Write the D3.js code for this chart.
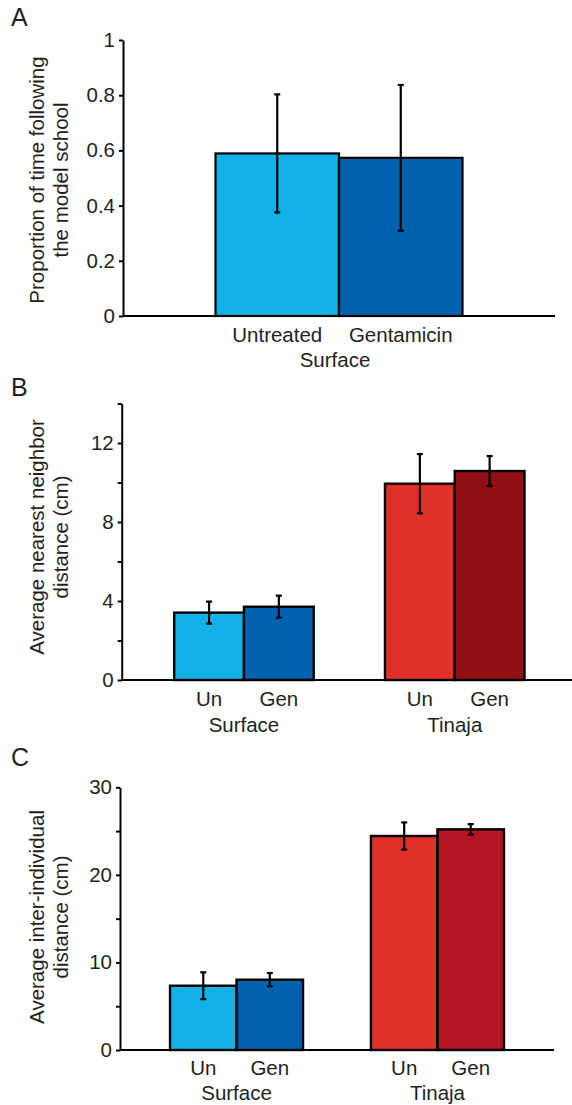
<!DOCTYPE html>
<html>
<head>
<meta charset="utf-8">
<script src="https://cdn.jsdelivr.net/npm/d3@7"></script>
<style>
  html, body { margin: 0; padding: 0; background: #ffffff; }
  svg { display: block; }
  text { font-family: "Liberation Sans", Arial, Helvetica, sans-serif; fill: #231f20; }
</style>
</head>
<body>
<svg id="fig" width="572" height="1105"></svg>
<script>
// ---- Panel A: proportion of time following the model school ----
const aCategories = ["Untreated", "Gentamicin"];
const aMeans = [0.589, 0.573];
const aErrors = [0.214, 0.264];
const aTicks = [0, 0.2, 0.4, 0.6, 0.8, 1];
const aTickLabels = ["0", "0.2", "0.4", "0.6", "0.8", "1"];
const aGroup = "Surface";
const aColors = ["#12b1e7", "#0061ae"];

// ---- Panel B: average nearest neighbor distance ----
const bGroups = ["Surface", "Tinaja"];
const bTreatments = ["Un", "Gen"];
const bSurfaceMeans = [3.41, 3.71];
const bSurfaceErrors = [0.56, 0.56];
const bTinajaMeans = [9.94, 10.58];
const bTinajaErrors = [1.5, 0.76];
const bTicks = [0, 2, 4, 6, 8, 10, 12, 14];
const bTickLabels = ["0", "", "4", "", "8", "", "12", ""];
const bColors = [["#12b1e7", "#0061ae"], ["#e03129", "#921014"]];

// ---- Panel C: average inter-individual distance ----
const cGroups = ["Surface", "Tinaja"];
const cTreatments = ["Un", "Gen"];
const cSurfaceMeans = [7.34, 8.03];
const cSurfaceErrors = [1.53, 0.76];
const cTinajaMeans = [24.44, 25.2];
const cTinajaErrors = [1.55, 0.6];
const cTicks = [0, 5, 10, 15, 20, 25, 30];
const cTickLabels = ["0", "", "10", "", "20", "", "30"];
const cColors = [["#12b1e7", "#0061ae"], ["#e03129", "#b51424"]];

const svg = d3.select("#fig");
const FS = 20.5;

function yAxis(g, y, x0, ticks, labels) {
  const axis = d3.axisLeft(y)
    .tickValues(ticks)
    .tickFormat((d, i) => labels[i])
    .tickSize(4)
    .tickSizeOuter(0)
    .tickPadding(4);
  const ag = g.append("g").attr("transform", `translate(${x0},0)`).call(axis);
  ag.select(".domain").attr("stroke", "#000").attr("stroke-width", 2);
  ag.selectAll(".tick line").attr("stroke", "#000").attr("stroke-width", 2);
  ag.selectAll(".tick text")
    .attr("font-size", FS)
    .attr("font-family", "Liberation Sans, Arial, sans-serif")
    .attr("fill", "#231f20");
}

function yTitle(g, lines, cx, cy) {
  const t = g.append("text")
    .attr("transform", `translate(${cx},${cy}) rotate(-90)`)
    .attr("text-anchor", "middle")
    .attr("font-size", FS);
  lines.forEach((s, i) => {
    t.append("tspan").attr("x", 0).attr("dy", i === 0 ? 0 : 24.5).text(s);
  });
}

function panelLetter(g, s, x, y) {
  g.append("text").attr("x", x).attr("y", y).attr("font-size", 25).text(s);
}

function errorBar(g, cx, y, m, e) {
  const cap = 3;
  g.append("line").attr("x1", cx).attr("x2", cx).attr("y1", y(m + e)).attr("y2", y(m - e))
    .attr("stroke", "#000").attr("stroke-width", 2.2);
  [m + e, m - e].forEach(v => {
    g.append("line").attr("x1", cx - cap).attr("x2", cx + cap).attr("y1", y(v)).attr("y2", y(v))
      .attr("stroke", "#000").attr("stroke-width", 2.2);
  });
}

// ---------- Panel A ----------
(function () {
  const g = svg.append("g");
  const x0 = 123, x1 = 555;
  const y = d3.scaleLinear().domain([0, 1]).range([316, 40]);
  const x = d3.scaleBand().domain(aCategories).range([x0, x1]).paddingInner(0).paddingOuter(0.749);

  g.append("line").attr("x1", x0).attr("x2", x1).attr("y1", y(0)).attr("y2", y(0))
    .attr("stroke", "#000").attr("stroke-width", 2);

  aCategories.forEach((c, i) => {
    g.append("rect")
      .attr("x", x(c)).attr("y", y(aMeans[i]))
      .attr("width", x.bandwidth()).attr("height", y(0) - y(aMeans[i]))
      .attr("fill", aColors[i]).attr("stroke", "#000").attr("stroke-width", 2.2);
  });
  aCategories.forEach((c, i) => {
    errorBar(g, x(c) + x.bandwidth() / 2, y, aMeans[i], aErrors[i]);
    g.append("text").attr("x", x(c) + x.bandwidth() / 2).attr("y", y(0) + 25.7)
      .attr("text-anchor", "middle").attr("font-size", FS).text(c);
  });
  g.append("text").attr("x", (x0 + x1) / 2 - 4).attr("y", y(0) + 50.7)
    .attr("text-anchor", "middle").attr("font-size", FS).text(aGroup);

  yAxis(g, y, x0, aTicks, aTickLabels);
  yTitle(g, ["Proportion of time following", "the model school"], 43.5, 180);
  panelLetter(g, "A", 11, 26);
})();

// ---------- Grouped panels (B and C) ----------
function groupedPanel(opts) {
  const g = svg.append("g");
  const { x0, x1, yRange, yMax, groups, treatments, means, errors, colors } = opts;
  const y = d3.scaleLinear().domain([0, yMax]).range(yRange);
  const xg = d3.scaleBand().domain(groups).range([x0, x1]).paddingInner(0.338).paddingOuter(0.249);
  const xt = d3.scaleBand().domain(treatments).range([0, xg.bandwidth()]).padding(0);

  g.append("line").attr("x1", x0).attr("x2", x1).attr("y1", y(0)).attr("y2", y(0))
    .attr("stroke", "#000").attr("stroke-width", 2);

  groups.forEach((grp, gi) => {
    treatments.forEach((t, ti) => {
      const m = means[gi][ti];
      g.append("rect")
        .attr("x", xg(grp) + xt(t)).attr("y", y(m))
        .attr("width", xt.bandwidth()).attr("height", y(0) - y(m))
        .attr("fill", colors[gi][ti]).attr("stroke", "#000").attr("stroke-width", 2.4);
    });
  });
  groups.forEach((grp, gi) => {
    treatments.forEach((t, ti) => {
      const cx = xg(grp) + xt(t) + xt.bandwidth() / 2;
      errorBar(g, cx, y, means[gi][ti], errors[gi][ti]);
      g.append("text").attr("x", cx).attr("y", y(0) + opts.labelDy)
        .attr("text-anchor", "middle").attr("font-size", FS).text(t);
    });
    g.append("text").attr("x", xg(grp) + xg.bandwidth() / 2).attr("y", y(0) + opts.groupDy)
      .attr("text-anchor", "middle").attr("font-size", FS).text(grp);
  });

  yAxis(g, y, x0, opts.ticks, opts.tickLabels);
  yTitle(g, opts.title, 43.5, opts.titleY);
  panelLetter(g, opts.letter, 11, opts.letterY);
}

groupedPanel({
  x0: 121.7, x1: 577, yRange: [680, 403.5], yMax: 14,
  groups: bGroups, treatments: bTreatments,
  means: [bSurfaceMeans, bTinajaMeans], errors: [bSurfaceErrors, bTinajaErrors],
  colors: bColors, ticks: bTicks, tickLabels: bTickLabels,
  title: ["Average nearest neighbor", "distance (cm)"], titleY: 537,
  letter: "B", letterY: 396, labelDy: 26, groupDy: 51.7
});

groupedPanel({
  x0: 120, x1: 554, yRange: [1050, 787.3], yMax: 30,
  groups: cGroups, treatments: cTreatments,
  means: [cSurfaceMeans, cTinajaMeans], errors: [cSurfaceErrors, cTinajaErrors],
  colors: cColors, ticks: cTicks, tickLabels: cTickLabels,
  title: ["Average inter-individual", "distance (cm)"], titleY: 917,
  letter: "C", letterY: 766, labelDy: 25, groupDy: 50
});
</script>
</body>
</html>
